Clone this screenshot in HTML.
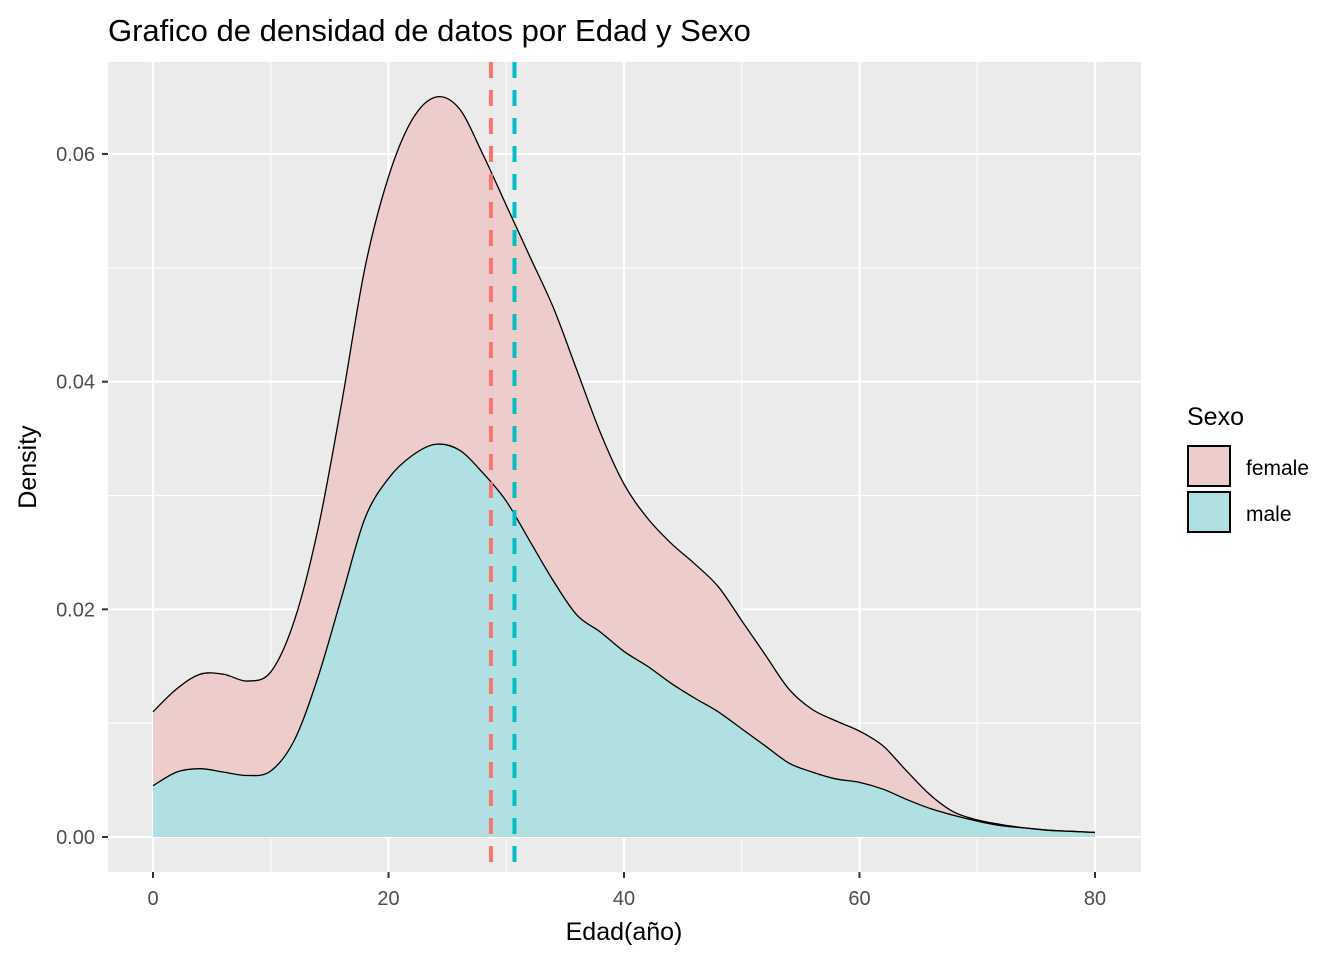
<!DOCTYPE html>
<html><head><meta charset="utf-8"><style>
html,body{margin:0;padding:0;background:#fff;}
svg{display:block;font-family:"Liberation Sans",Arial,sans-serif;}
</style></head><body>
<svg id="chart" width="1344" height="960" viewBox="0 0 1344 960">
<rect width="1344" height="960" fill="#fff"/>
<text x="108" y="41" font-size="31" fill="#000">Grafico de densidad de datos por Edad y Sexo</text>
<rect x="108" y="62" width="1033" height="810" fill="#EBEBEB"/>
<g id="grid"></g>
<g id="areas"></g>
<g id="vlines"></g>
<g id="axes"></g>
<text x="624" y="940" font-size="25" text-anchor="middle" fill="#000">Edad(año)</text>
<text transform="translate(36,467) rotate(-90)" font-size="25" text-anchor="middle" fill="#000">Density</text>
<g>
<text x="1187" y="425" font-size="25" fill="#000">Sexo</text>
<rect x="1188" y="446" width="42" height="40" fill="#EDCDCB" stroke="#000" stroke-width="2"/>
<rect x="1188" y="492" width="42" height="40" fill="#B1E0E2" stroke="#000" stroke-width="2"/>
<text x="1246" y="475" font-size="21" fill="#000">female</text>
<text x="1246" y="521" font-size="21" fill="#000">male</text>
</g>
</svg>
<script>
const ages = [0,2,4,6,8,10,12,14,16,18,20,22,24,26,28,30,32,34,36,38,40,42,44,46,48,50,52,54,56,58,60,62,64,66,68,70,72,74,76,78,80];
const maleDensity = [.0045,.0057,.006,.0057,.0054,.0058,.0085,.014,.021,.028,.0315,.0335,.0345,.034,.032,.0295,.026,.0225,.0195,.018,.0163,.015,.0135,.0122,.011,.0095,.008,.0065,.0057,.0051,.0048,.0042,.0033,.0025,.0019,.0014,.001,.0008,.0006,.0005,.0004];
const femaleDensity = [.0065,.0073,.0083,.0086,.0083,.0087,.0105,.013,.017,.022,.0265,.0295,.0305,.030,.028,.026,.025,.024,.0215,.0175,.0147,.013,.0123,.0118,.011,.0095,.008,.0065,.0055,.0051,.0045,.0038,.0025,.0012,.0003,.0001,.0001,0,0,0,0];
const meanAges = [28.7,30.7];
const meanColors = ["#F8766D","#00BFC4"];
const xTicks = [0,20,40,60,80];
const xMinor = [10,30,50,70];
const yTicks = [0,0.02,0.04,0.06];
const yTickLabels = ["0.00","0.02","0.04","0.06"];
const yMinor = [0.01,0.03,0.05];

const NS="http://www.w3.org/2000/svg";
const X=v=>153+v*(1095-153)/80;
const Y=v=>837-v*(837-154)/0.06;
function mk(tag,attrs,parent){const e=document.createElementNS(NS,tag);for(const k in attrs)e.setAttribute(k,attrs[k]);parent.appendChild(e);return e;}
const grid=document.getElementById('grid'),areas=document.getElementById('areas'),vl=document.getElementById('vlines'),axes=document.getElementById('axes');
xMinor.forEach(v=>{const l=mk('line',{x1:X(v),x2:X(v),y1:62,y2:872,stroke:'#fff','stroke-width':1.1},grid);});
yMinor.forEach(v=>{const l=mk('line',{x1:108,x2:1141,y1:Y(v),y2:Y(v),stroke:'#fff','stroke-width':1.1},grid);});
xTicks.forEach(v=>{const l=mk('line',{x1:X(v),x2:X(v),y1:62,y2:872,stroke:'#fff','stroke-width':2.2},grid);
 const t=mk('line',{x1:X(v),x2:X(v),y1:872,y2:878,stroke:'#333','stroke-width':2},axes);
 const tx=mk('text',{x:X(v),y:905,'font-size':20,'text-anchor':'middle',fill:'#4D4D4D'},axes);tx.textContent=v;});
yTicks.forEach((v,i)=>{const l=mk('line',{x1:108,x2:1141,y1:Y(v),y2:Y(v),stroke:'#fff','stroke-width':2.2},grid);
 const t=mk('line',{x1:102,x2:108,y1:Y(v),y2:Y(v),stroke:'#333','stroke-width':2},axes);
 const tx=mk('text',{x:95,y:Y(v)+7,'font-size':20,'text-anchor':'end',fill:'#4D4D4D'},axes);tx.textContent=yTickLabels[i];});
function smooth(pts){let d='';for(let i=0;i<pts.length-1;i++){const p0=pts[Math.max(0,i-1)],p1=pts[i],p2=pts[i+1],p3=pts[Math.min(pts.length-1,i+2)];
 const c1=[p1[0]+(p2[0]-p0[0])/6,p1[1]+(p2[1]-p0[1])/6],c2=[p2[0]-(p3[0]-p1[0])/6,p2[1]-(p3[1]-p1[1])/6];
 d+=` C${c1[0]},${c1[1]} ${c2[0]},${c2[1]} ${p2[0]},${p2[1]}`;}return d;}
const malePts=ages.map((a,i)=>[X(a),Y(maleDensity[i])]);
const topPts=ages.map((a,i)=>[X(a),Y(maleDensity[i]+femaleDensity[i])]);
const maleRev=malePts.slice().reverse();
const fArea=mk('path',{d:`M${topPts[0][0]},${topPts[0][1]}`+smooth(topPts)+` L${maleRev[0][0]},${maleRev[0][1]}`+smooth(maleRev)+'Z',fill:'#EDCDCB'},areas);

const mArea=mk('path',{d:`M${malePts[0][0]},${Y(0)} L${malePts[0][0]},${malePts[0][1]}`+smooth(malePts)+` L${X(80)},${Y(0)}Z`,fill:'#B1E0E2'},areas);

const fLine=mk('path',{d:`M${topPts[0][0]},${topPts[0][1]}`+smooth(topPts),fill:'none',stroke:'#000','stroke-width':1.3},areas);

const mLine=mk('path',{d:`M${malePts[0][0]},${malePts[0][1]}`+smooth(malePts),fill:'none',stroke:'#000','stroke-width':1.3},areas);

meanAges.forEach((m,i)=>{const l=mk('line',{x1:X(m),x2:X(m),y1:62,y2:872,stroke:meanColors[i],'stroke-width':4,'stroke-dasharray':'16,12'},vl);
 });
</script>
</body></html>
